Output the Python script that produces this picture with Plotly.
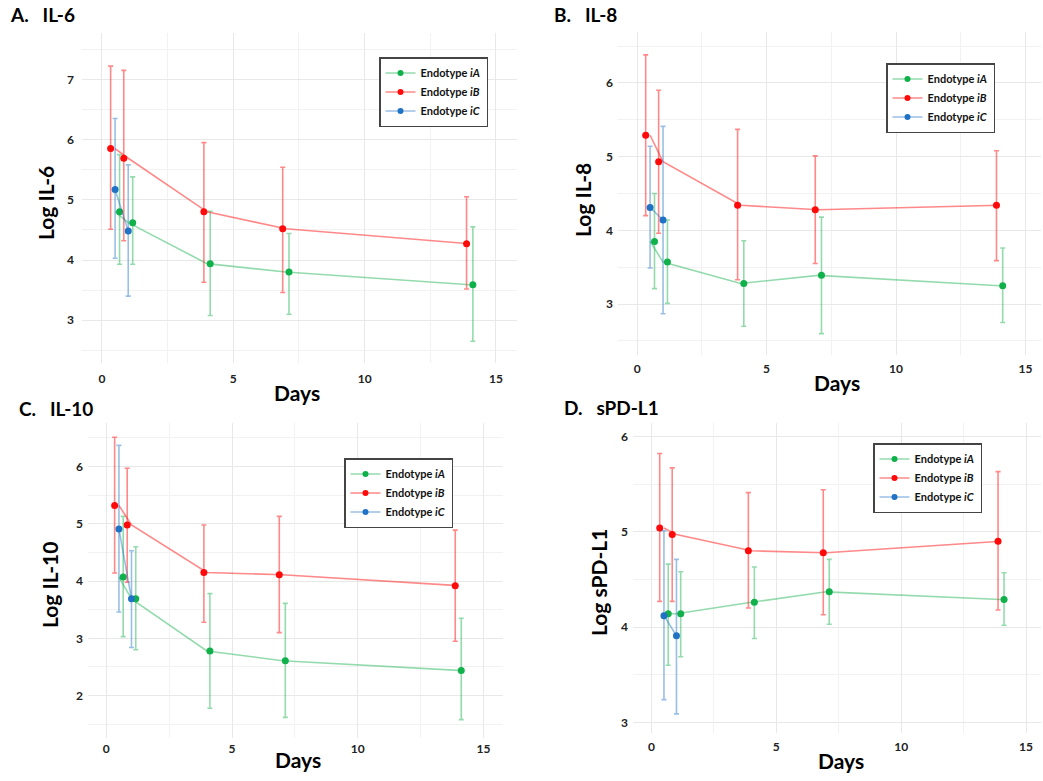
import plotly.graph_objects as go

W, H = 1043, 781

# ---------------- data ----------------
days = [0.5, 1, 4, 7, 14]
days_c = [0.5, 1]
x_ticks = [0, 5, 10, 15]

# IL-6
il6_a_mean = [4.80, 4.62, 3.94, 3.80, 3.59]
il6_a_lo = [3.93, 3.93, 3.08, 3.10, 2.65]
il6_a_hi = [5.75, 5.38, 4.81, 4.44, 4.55]
il6_b_mean = [5.85, 5.69, 4.80, 4.52, 4.27]
il6_b_lo = [4.51, 4.32, 3.63, 3.46, 3.52]
il6_b_hi = [7.22, 7.15, 5.95, 5.54, 5.05]
il6_c_mean = [5.17, 4.48]
il6_c_lo = [4.03, 3.40]
il6_c_hi = [6.35, 5.58]

# IL-8
il8_a_mean = [3.85, 3.57, 3.28, 3.39, 3.25]
il8_a_lo = [3.21, 3.01, 2.70, 2.60, 2.75]
il8_a_hi = [4.50, 4.14, 3.86, 4.18, 3.76]
il8_b_mean = [5.29, 4.93, 4.34, 4.28, 4.34]
il8_b_lo = [4.20, 3.96, 3.33, 3.55, 3.59]
il8_b_hi = [6.38, 5.90, 5.37, 5.01, 5.08]
il8_c_mean = [4.31, 4.14]
il8_c_lo = [3.49, 2.87]
il8_c_hi = [5.14, 5.41]

# IL-10
il10_a_mean = [4.07, 3.69, 2.78, 2.61, 2.44]
il10_a_lo = [3.03, 2.80, 1.78, 1.62, 1.58]
il10_a_hi = [5.13, 4.60, 3.78, 3.61, 3.35]
il10_b_mean = [5.32, 4.98, 4.15, 4.11, 3.92]
il10_b_lo = [4.14, 3.98, 3.28, 3.10, 2.95]
il10_b_hi = [6.51, 5.97, 4.98, 5.13, 4.89]
il10_c_mean = [4.91, 3.69]
il10_c_lo = [3.46, 2.84]
il10_c_hi = [6.37, 4.53]

# sPD-L1
pdl1_a_mean = [4.14, 4.14, 4.26, 4.37, 4.29]
pdl1_a_lo = [3.60, 3.69, 3.88, 4.03, 4.02]
pdl1_a_hi = [4.66, 4.58, 4.63, 4.71, 4.57]
pdl1_b_mean = [5.04, 4.97, 4.80, 4.78, 4.90]
pdl1_b_lo = [4.27, 4.27, 4.20, 4.13, 4.18]
pdl1_b_hi = [5.82, 5.67, 5.41, 5.44, 5.63]
pdl1_c_mean = [4.12, 3.91]
pdl1_c_lo = [3.24, 3.09]
pdl1_c_hi = [5.01, 4.71]

groups = ["iA", "iB", "iC"]
group_names = ["Endotype <i>iA</i>", "Endotype <i>iB</i>", "Endotype <i>iC</i>"]

panels = [
    dict(title="A.\u00a0\u00a0\u00a0IL-6", ytitle="Log IL-6",
         a=(il6_a_mean, il6_a_lo, il6_a_hi), b=(il6_b_mean, il6_b_lo, il6_b_hi),
         c=(il6_c_mean, il6_c_lo, il6_c_hi)),
    dict(title="B.\u00a0\u00a0\u00a0IL-8", ytitle="Log IL-8",
         a=(il8_a_mean, il8_a_lo, il8_a_hi), b=(il8_b_mean, il8_b_lo, il8_b_hi),
         c=(il8_c_mean, il8_c_lo, il8_c_hi)),
    dict(title="C.\u00a0\u00a0\u00a0IL-10", ytitle="Log IL-10",
         a=(il10_a_mean, il10_a_lo, il10_a_hi), b=(il10_b_mean, il10_b_lo, il10_b_hi),
         c=(il10_c_mean, il10_c_lo, il10_c_hi)),
    dict(title="D.\u00a0\u00a0\u00a0sPD-L1", ytitle="Log sPD-L1",
         a=(pdl1_a_mean, pdl1_a_lo, pdl1_a_hi), b=(pdl1_b_mean, pdl1_b_lo, pdl1_b_hi),
         c=(pdl1_c_mean, pdl1_c_lo, pdl1_c_hi)),
]

# ---------------- layout geometry (pixels) ----------------
# plot areas: (left, right, top, bottom)
areas = [(82, 517, 33, 363), (618, 1041, 32, 355), (88, 503, 423, 738), (633, 1041, 423, 733)]
x_ranges = [(-0.76, 15.8), (-0.74, 15.6), (-0.73, 15.78), (-0.74, 15.6)]
y_ranges = [(2.29, 7.77), (2.31, 6.69), (1.26, 6.76), (2.89, 6.14)]
y_dticks = [1, 1, 1, 1]
ylab_standoff = [7, 4, 4, 4]
xlab_standoff = [7, 5, 2, 5]
ytitle_pos = [(45, 203), (583, 200), (49, 585), (598, 583)]
xtitle_pos = [(297, 392), (837, 383), (298, 759), (841, 760)]
title_pos = [(8, 15), (552, 15), (17, 408), (562, 407)]
legend_pos = [(379, 57), (886, 63), (344, 458), (873, 443)]

marker_colors = {"iA": "#10b04a", "iB": "#ff0a0a", "iC": "#1f72c4"}
light_colors = {"iA": "rgba(16,176,74,0.45)", "iB": "rgba(255,20,20,0.5)", "iC": "rgba(31,114,196,0.45)"}

FONT = "Lato"
fig = go.Figure()


def dodge_offsets(group, day):
    has_c = day in days_c
    if has_c:
        return {"iB": -0.17, "iC": 0.0, "iA": 0.17}[group]
    return {"iB": -0.12, "iA": 0.12, "iC": 0.0}[group]


annotations = []
layout_axes = {}
for i, p in enumerate(panels):
    n = i + 1
    xa = "x" if n == 1 else f"x{n}"
    ya = "y" if n == 1 else f"y{n}"
    leg = "legend" if n == 1 else f"legend{n}"
    left, right, top, bottom = areas[i]
    layout_axes[f"xaxis{'' if n == 1 else n}"] = dict(
        domain=[left / W, right / W], anchor=ya, range=list(x_ranges[i]),
        tickvals=x_ticks, showgrid=True, gridcolor="#e8e8e8", gridwidth=1,
        minor=dict(dtick=2.5, tick0=0, showgrid=True, gridcolor="#f2f2f2", gridwidth=1),
        zeroline=False, showline=False, ticks="",
        tickfont=dict(family=FONT, size=12, color="#222", weight="bold"),
        ticklabelstandoff=xlab_standoff[i],
    )
    layout_axes[f"yaxis{'' if n == 1 else n}"] = dict(
        domain=[1 - bottom / H, 1 - top / H], anchor=xa, range=list(y_ranges[i]),
        dtick=y_dticks[i], showgrid=True, gridcolor="#e8e8e8", gridwidth=1,
        minor=dict(dtick=0.5, showgrid=True, gridcolor="#f2f2f2", gridwidth=1),
        zeroline=False, showline=False, ticks="",
        tickfont=dict(family=FONT, size=12, color="#222", weight="bold"),
        ticklabelstandoff=ylab_standoff[i],
    )
    # legend
    lx, ly = legend_pos[i]
    layout_axes[leg] = dict(
        x=lx / W, y=1 - ly / H, xanchor="left", yanchor="top",
        bgcolor="white", bordercolor="#444", borderwidth=1.5,
        font=dict(family=FONT, size=11, color="#111", weight="bold"),
        tracegroupgap=0, itemwidth=30,
    )
    # data traces
    for g, key in zip(groups, ["a", "b", "c"]):
        mean, lo, hi = p[key]
        xs = days if g != "iC" else days_c
        # connecting line at undodged day positions
        fig.add_trace(go.Scatter(
            x=xs, y=mean, mode="lines", xaxis=xa, yaxis=ya,
            line=dict(color=light_colors[g], width=1.6), showlegend=False, hoverinfo="skip"))
        # dodged points with error bars
        xd = [d + dodge_offsets(g, d) for d in xs]
        fig.add_trace(go.Scatter(
            x=xd, y=mean, mode="markers", xaxis=xa, yaxis=ya,
            marker=dict(color=marker_colors[g], size=7),
            error_y=dict(type="data", symmetric=False,
                         array=[h - m for h, m in zip(hi, mean)],
                         arrayminus=[m - l for m, l in zip(mean, lo)],
                         color=light_colors[g], thickness=1.6, width=2.5),
            showlegend=False))
    # legend entries
    for g, name in zip(groups, group_names):
        fig.add_trace(go.Scatter(
            x=[None], y=[None], mode="lines+markers", xaxis=xa, yaxis=ya,
            name=name, legend=leg,
            line=dict(color=light_colors[g], width=1.6),
            marker=dict(color=marker_colors[g], size=6)))
    # texts
    tx, ty = title_pos[i]
    annotations.append(dict(text=p["title"], x=tx / W, y=1 - ty / H, xref="paper", yref="paper",
                            xanchor="left", yanchor="middle", showarrow=False,
                            font=dict(family=FONT, size=19, color="#000", weight="bold")))
    yx, yy = ytitle_pos[i]
    annotations.append(dict(text=p["ytitle"], x=yx / W, y=1 - yy / H, xref="paper", yref="paper",
                            xanchor="center", yanchor="middle", showarrow=False, textangle=-90,
                            font=dict(family=FONT, size=21, color="#000", weight="bold")))
    dx, dy = xtitle_pos[i]
    annotations.append(dict(text="Days", x=dx / W, y=1 - dy / H, xref="paper", yref="paper",
                            xanchor="center", yanchor="middle", showarrow=False,
                            font=dict(family=FONT, size=21, color="#000", weight="bold")))

fig.update_layout(
    width=W, height=H, margin=dict(l=0, r=0, t=0, b=0),
    paper_bgcolor="white", plot_bgcolor="white",
    annotations=annotations, **layout_axes,
)

fig.write_html(
    "out.html",
    config={"displayModeBar": False},
    post_script="document.body.style.margin='0';document.body.style.overflow='hidden';",
)
